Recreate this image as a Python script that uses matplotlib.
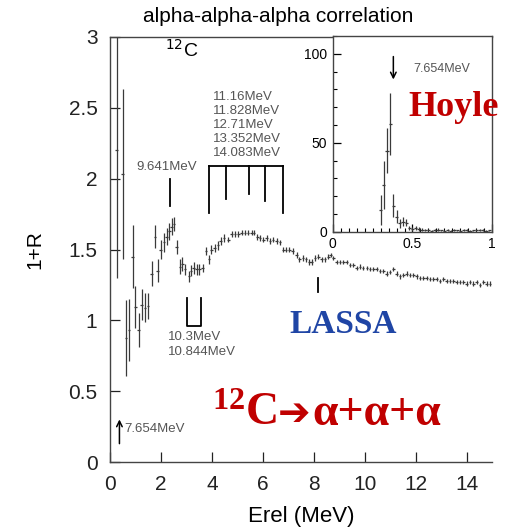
import matplotlib
matplotlib.use("Agg")
import matplotlib.pyplot as plt
from matplotlib.ticker import MultipleLocator

# ---------------- main data (Erel in MeV, 1+R) ----------------
erel = [0.26, 0.50, 0.63, 0.75, 0.89, 1.00, 1.12, 1.24, 1.37, 1.49, 1.63, 1.76, 1.87,
        1.99, 2.12, 2.22, 2.33, 2.42, 2.51, 2.61, 2.75, 2.84, 2.94, 3.10, 3.18, 3.28,
        3.40, 3.50, 3.63, 3.76, 3.88, 3.98, 4.10, 4.23, 4.34, 4.47,
        4.64, 4.77, 4.90, 5.03, 5.16, 5.29, 5.42, 5.55, 5.65, 5.78, 5.88, 6.01, 6.14,
        6.27, 6.40, 6.54, 6.67, 6.80, 6.90, 7.03, 7.16, 7.32, 7.43, 7.56, 7.69, 7.82,
        7.91, 8.04, 8.17, 8.30, 8.43, 8.56, 8.65, 8.76, 8.89, 9.02, 9.15, 9.28, 9.41,
        9.54, 9.67, 9.80, 9.93, 10.07, 10.20, 10.33, 10.46, 10.59, 10.72, 10.85, 10.98,
        11.11, 11.24, 11.37, 11.50, 11.63, 11.76, 11.90, 12.03, 12.16, 12.29, 12.42,
        12.55, 12.68, 12.81, 12.94, 13.07, 13.20, 13.33, 13.46, 13.59, 13.72, 13.86,
        13.99, 14.12, 14.25, 14.38, 14.51, 14.64, 14.77, 14.90]
one_plus_r = [2.2, 2.03, 0.875, 0.93, 1.45, 1.095, 0.93, 1.11, 1.09, 1.10, 1.33, 1.59, 1.35,
              1.50, 1.55, 1.59, 1.63, 1.66, 1.68, 1.52, 1.38, 1.40, 1.36, 1.31, 1.35, 1.37,
              1.36, 1.36, 1.37, 1.49, 1.43, 1.50, 1.51, 1.53, 1.56, 1.58,
              1.57, 1.61, 1.61, 1.61, 1.62, 1.62, 1.62, 1.62, 1.62, 1.59, 1.58, 1.57, 1.58,
              1.56, 1.57, 1.56, 1.55, 1.50, 1.50, 1.50, 1.49, 1.46, 1.43, 1.44, 1.43, 1.41,
              1.41, 1.44, 1.45, 1.43, 1.43, 1.45, 1.46, 1.44, 1.41, 1.41, 1.41, 1.41, 1.39,
              1.39, 1.37, 1.38, 1.37, 1.37, 1.36, 1.36, 1.36, 1.35, 1.35, 1.33, 1.34,
              1.36, 1.33, 1.31, 1.32, 1.33, 1.32, 1.32, 1.31, 1.30, 1.30, 1.30,
              1.29, 1.29, 1.29, 1.28, 1.29, 1.28, 1.28, 1.28, 1.27, 1.27, 1.27,
              1.26, 1.27, 1.26, 1.27, 1.25, 1.27, 1.26, 1.26]
err_r = [0.9, 0.6, 0.27, 0.22, 0.22, 0.15, 0.12, 0.11, 0.10, 0.09, 0.09, 0.08, 0.08,
         0.07, 0.07, 0.06, 0.06, 0.06, 0.05, 0.05, 0.05, 0.05, 0.04, 0.04, 0.04, 0.04,
         0.04, 0.04, 0.03, 0.03, 0.03, 0.03, 0.03, 0.03, 0.03, 0.03] + [0.02] * 31 + [0.015] * 50

# ---------------- inset data (Hoyle peak) ----------------
erel_in = [0.30, 0.32, 0.34, 0.36, 0.38, 0.40, 0.42, 0.44, 0.46, 0.48, 0.50, 0.52, 0.54,
           0.56, 0.58, 0.60, 0.62, 0.64, 0.66, 0.68, 0.70, 0.72, 0.74, 0.76, 0.78, 0.80,
           0.82, 0.84, 0.86, 0.88, 0.90, 0.92, 0.94, 0.96, 0.98]
r_in = [12.2, 26.3, 45.5, 60.7, 14.7, 8.5, 4.7, 5.6, 5.1, 2.0, 1.5, 2.0, 1.5,
        1.0, 0.8, 1.0, 0.6, 0.8, 1.2, 0.7, 0.5, 0.8, 0.6, 1.0, 0.7, 0.5,
        0.9, 1.0, 0.6, 0.8, 1.1, 0.9, 1.0, 0.6, 0.8]
err_in = [8.5, 13.6, 12.7, 17.4, 6.6, 3.8, 2.4, 2.4, 2.0, 1.2, 1.0, 1.0, 1.0,
          0.8, 0.6, 0.6, 0.5, 0.5, 0.6, 0.5, 0.4, 0.5, 0.4, 0.5, 0.4, 0.4,
          0.5, 0.5, 0.4, 0.4, 0.5, 0.4, 0.4, 0.4, 0.4]

# resonance markers
e_9641 = 2.37
bracket_x = [3.89, 4.55, 5.44, 6.08, 6.80]
bracket_bottom = [1.76, 1.86, 1.89, 1.84, 1.76]
bracket_labels = ["11.16MeV", "11.828MeV", "12.71MeV", "13.352MeV", "14.083MeV"]
u_x = [3.03, 3.57]

sans = ["Liberation Sans", "DejaVu Sans"]
plt.rcParams["font.family"] = sans

fig = plt.figure(figsize=(5.06, 5.30), dpi=100)
ax = fig.add_axes([110 / 506, 1 - 462 / 530, (492.5 - 110) / 506, (462 - 37) / 530])

dark = "#3a3a3a"
ax.errorbar(erel, one_plus_r, yerr=err_r, xerr=0.05, fmt="none", ecolor=dark,
            elinewidth=0.9, capsize=0)
ax.set_xlim(0, 15)
ax.set_ylim(0, 3)
ax.set_yticks([0, 0.5, 1, 1.5, 2, 2.5, 3])
ax.set_yticklabels(["0", "0.5", "1", "1.5", "2", "2.5", "3"])
ax.set_xticks([0, 2, 4, 6, 8, 10, 12, 14])
ax.tick_params(direction="in", length=7, width=0.9, labelsize=15, pad=9, colors="#222222")
ax.tick_params(axis="x", pad=9)
ax.spines["right"].set_visible(False)
for s in ("left", "bottom", "top"):
    ax.spines[s].set_linewidth(1.0)
    ax.spines[s].set_color("#444444")
ax.set_xlabel("Erel (MeV)", fontsize=16, labelpad=9)
ax.set_ylabel("1+R", fontsize=15, labelpad=17)
ax.set_title("alpha-alpha-alpha correlation", fontsize=15, loc="left", x=0.085, pad=11)

gray = "#555555"
ax.text(2.15, 2.91, r"$^{12}$C", fontsize=14, ha="left", va="center")
# 9.641 MeV
ax.plot([e_9641, e_9641], [1.81, 2.00], color="black", lw=1.3)
ax.text(2.22, 2.08, "9.641MeV", fontsize=9.5, color=gray, ha="center", va="center")
# bracket
ax.plot([bracket_x[0], bracket_x[-1]], [2.09, 2.09], color="black", lw=1.3)
for bx, bb in zip(bracket_x, bracket_bottom):
    ax.plot([bx, bx], [bb, 2.09], color="black", lw=1.3)
for i, lab in enumerate(bracket_labels):
    ax.text(4.05, 2.58 - i * 0.1, lab, fontsize=9.5, color=gray, ha="left", va="center")
# U bracket
ax.plot([u_x[0], u_x[0], u_x[1], u_x[1]], [1.16, 0.96, 0.96, 1.16], color="black", lw=1.3)
ax.text(2.27, 0.88, "10.3MeV", fontsize=9.5, color=gray, ha="left", va="center")
ax.text(2.27, 0.775, "10.844MeV", fontsize=9.5, color=gray, ha="left", va="center")
# marker near 8.17
ax.plot([8.17, 8.17], [1.20, 1.30], color="black", lw=1.3)
# 7.654 arrow
ax.annotate("", xy=(0.37, 0.32), xytext=(0.37, 0.11),
            arrowprops=dict(arrowstyle="->", color="black", lw=1.1))
ax.text(0.55, 0.235, "7.654MeV", fontsize=9.5, color=gray, ha="left", va="center")

serif = ["Liberation Serif", "DejaVu Serif"]
red = "#c00000"
ax.text(9.15, 0.97, "LASSA", fontsize=24, fontweight="bold", color="#1f45a5",
        family=serif, ha="center", va="center")

# 12C -> alpha+alpha+alpha, drawn as chained pieces so the heavy arrow glyph is available
renderer = fig.canvas.get_renderer()
x0, y0 = 4.0, 0.26
t1 = ax.text(x0, y0, r"$\mathregular{^{12}}$C", fontsize=33, fontweight="bold", color=red,
             family=serif, ha="left", va="baseline")
w1 = t1.get_window_extent(renderer).width
t2 = ax.annotate("➔", xy=(x0, y0), xycoords="data", xytext=(w1 + 1, 0),
                 textcoords="offset pixels", fontsize=28, color=red,
                 family=["DejaVu Sans"], ha="left", va="baseline")
w2 = t2.get_window_extent(renderer).width
ax.annotate("α+α+α", xy=(x0, y0), xycoords="data", xytext=(w1 + w2 + 3, 0),
            textcoords="offset pixels", fontsize=33, fontweight="bold", color=red,
            family=serif, ha="left", va="baseline")

# ---------------- inset ----------------
axi = fig.add_axes([332.7 / 506, 1 - 231.7 / 530, (492.3 - 332.7) / 506, (231.7 - 36) / 530])
axi.errorbar(erel_in, r_in, yerr=err_in, xerr=0.01, fmt="none", ecolor=dark,
             elinewidth=0.9, capsize=0)
axi.set_xlim(0, 1)
axi.set_ylim(0, 110)
axi.set_xticks([0, 0.5, 1])
axi.set_xticklabels(["0", "0.5", "1"])
axi.set_yticks([0, 50, 100])
axi.xaxis.set_minor_locator(MultipleLocator(0.05))
axi.yaxis.set_minor_locator(MultipleLocator(10))
axi.tick_params(which="major", direction="in", length=6, width=0.9, labelsize=10, pad=4)
axi.tick_params(which="minor", direction="in", length=3, width=0.8)
for s in axi.spines.values():
    s.set_linewidth(1.0)
    s.set_color("#444444")
axi.annotate("", xy=(0.38, 84), xytext=(0.38, 100),
             arrowprops=dict(arrowstyle="->", color="black", lw=1.1))
axi.text(0.505, 91.5, "7.654MeV", fontsize=9, color=gray, ha="left", va="center")
axi.text(0.76, 70, "Hoyle", fontsize=26, fontweight="bold", color=red,
         family=serif, ha="center", va="center", clip_on=False)

fig.savefig("out.png", dpi=100)
